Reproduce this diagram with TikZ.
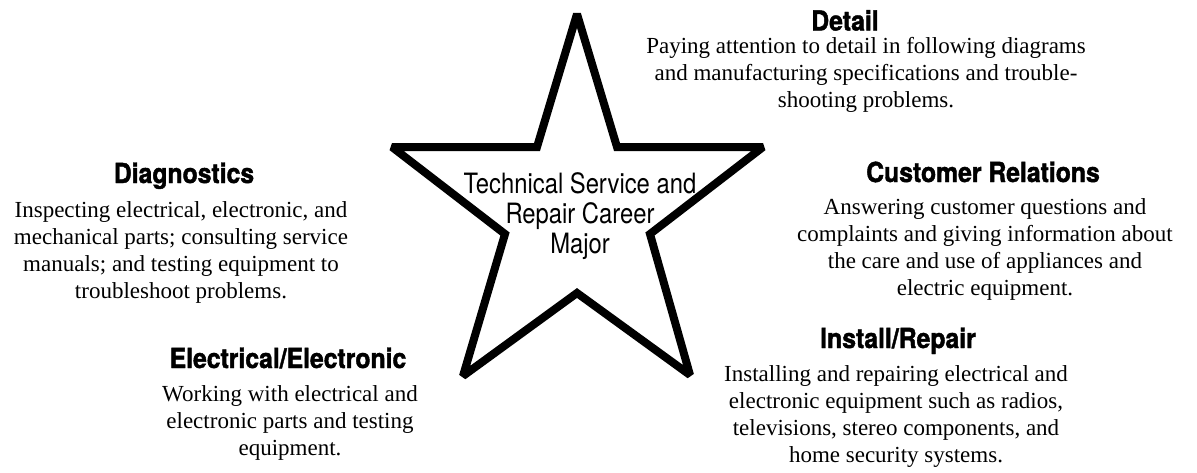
\documentclass[tikz,border=0pt]{standalone}
\usepackage{fontspec}
\setmainfont{Liberation Serif}
\newfontfamily\headfont{TeX Gyre Heros}[FakeStretch=0.9, BoldFeatures={FakeBold=1.5}]
\newfontfamily\starfont{TeX Gyre Heros}[FakeStretch=0.85]
\begin{document}
\begin{tikzpicture}[x=1pt,y=-1pt,
  head/.style={font=\headfont\bfseries\fontsize{27.5}{30}\selectfont, inner sep=0pt, anchor=base},
  body/.style={font=\fontsize{23}{27}\selectfont, align=center, inner sep=0pt, anchor=base},
  starline/.style={line width=8pt, line join=miter, miter limit=2}]
\useasboundingbox (0,0) rectangle (1197,472);
% star
\coordinate (s1) at (577,14);
\coordinate (s2) at (617,147);
\coordinate (s3) at (763,147);
\coordinate (s4) at (650,234);
\coordinate (s5) at (690,375);
\coordinate (s6) at (577,293);
\coordinate (s7) at (463,376);
\coordinate (s8) at (505,234);
\coordinate (s9) at (392,147);
\coordinate (s10) at (537,147);
\draw[starline] (s1) -- (s2) -- (s3) -- (s4) -- (s5) -- (s6) -- (s7) -- (s8) -- (s9) -- (s10) -- cycle;
% anchor=base of a multi-line node is the baseline of its last line
\node[font=\starfont\fontsize{28}{30}\selectfont, align=center, inner sep=0pt, anchor=base] (major) at (580,253) {Technical Service and\\Repair Career\\Major};
% headings
\node[head] (detailH) at (845,30.5) {Detail};
\node[head] (diagH) at (184,183) {Diagnostics};
\node[head] (custH) at (983,182) {Customer Relations};
\node[head] (elecH) at (288,368) {Electrical/Electronic};
\node[head] (instH) at (898,348) {Install/Repair};
% bodies
\node[body] (detailB) at (866,107.5) {Paying attention to detail in following diagrams\\and manufacturing specifications and trouble-\\shooting problems.};
\node[body] (diagB) at (181,298) {Inspecting electrical, electronic, and\\mechanical parts; consulting service\\manuals; and testing equipment to\\troubleshoot problems.};
\node[body] (custB) at (985,295) {Answering customer questions and\\complaints and giving information about\\the care and use of appliances and\\electric equipment.};
\node[body] (elecB) at (290,455) {Working with electrical and\\electronic parts and testing\\equipment.};
\node[body] (instB) at (896,462) {Installing and repairing electrical and\\electronic equipment such as radios,\\televisions, stereo components, and\\home security systems.};
\end{tikzpicture}
\end{document}
